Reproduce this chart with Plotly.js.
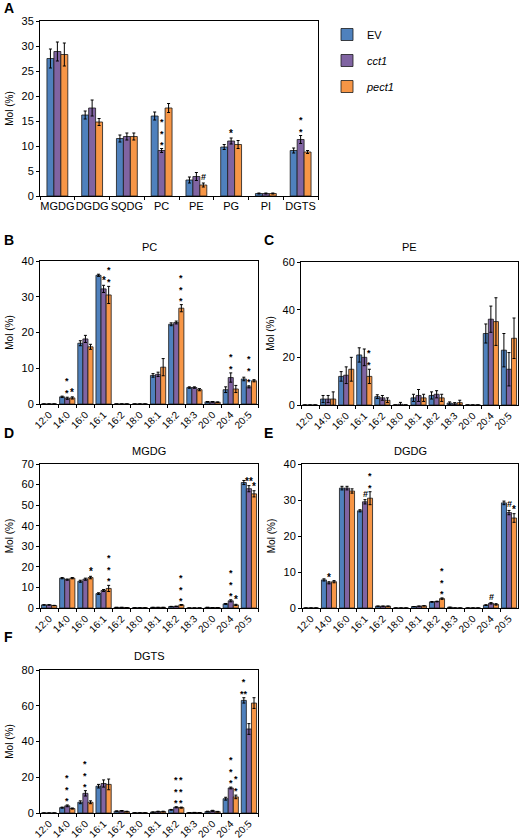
<!DOCTYPE html>
<html>
<head>
<meta charset="utf-8">
<script src="https://cdn.plot.ly/plotly-3.0.1.min.js"></script>
<style>html,body{margin:0;padding:0;background:#fff;}#chart{width:520px;height:840px;}</style>
</head>
<body>
<div id="chart"></div>
<script>
// ---------- DATA ----------
const seriesNames = ['EV', 'cct1', 'pect1'];
const lipidClasses = ['MGDG', 'DGDG', 'SQDG', 'PC', 'PE', 'PG', 'PI', 'DGTS'];
const fattyAcids = ['12:0', '14:0', '16:0', '16:1', '16:2', '18:0', '18:1', '18:2', '18:3', '20:0', '20:4', '20:5'];

// A: lipid classes
const classEV       = [27.5, 16.2, 11.5, 16.0, 3.2, 9.8, 0.5, 9.1];
const classCct1     = [28.9, 17.6, 11.9, 9.1, 3.9, 11.0, 0.5, 11.3];
const classPect1    = [28.3, 14.8, 11.9, 17.6, 2.2, 10.3, 0.5, 8.8];
const classEVErr    = [1.9, 0.8, 0.7, 0.8, 0.6, 0.5, 0.1, 0.5];
const classCct1Err  = [1.9, 1.6, 0.7, 0.4, 0.8, 0.6, 0.1, 0.8];
const classPect1Err = [2.3, 0.7, 0.7, 0.9, 0.4, 0.8, 0.1, 0.3];
const classMarks = [[3, 1, '***', true], [4, 2, '#', false], [5, 1, '*', false], [7, 1, '**', true]];

// B: PC
const pcEV       = [0, 2.0, 17.0, 36.0, 0, 0, 8.0, 22.3, 4.6, 0.6, 4.0, 7.0];
const pcCct1     = [0, 1.6, 18.2, 32.2, 0, 0, 8.3, 22.8, 4.6, 0.6, 7.4, 4.8];
const pcPect1    = [0, 1.7, 16.0, 30.5, 0, 0, 10.3, 26.8, 4.0, 0.5, 4.2, 6.5];
const pcEVErr    = [0, 0.2, 0.7, 0.3, 0, 0, 0.5, 0.4, 0.2, 0.1, 0.8, 0.5];
const pcCct1Err  = [0, 0.3, 1.0, 1.0, 0, 0, 0.6, 0.4, 0.2, 0.1, 1.3, 0.3];
const pcPect1Err = [0, 0.3, 0.7, 2.4, 0, 0, 2.4, 1.0, 0.3, 0.1, 1.0, 0.3];
const pcMarks = [[1, 1, '**', true], [1, 2, '*', false], [3, 1, '*', false], [3, 2, '**', true],
                 [7, 2, '***', true], [10, 1, '**', true], [11, 1, '***', true]];

// C: PE
const peEV       = [0, 2.5, 12.0, 21.0, 3.5, 0, 3.0, 4.0, 0.8, 0, 30.0, 23.0];
const peCct1     = [0, 2.5, 12.5, 20.0, 3.0, 0.3, 4.0, 4.5, 0.5, 0, 36.0, 15.0];
const pePect1    = [0, 2.5, 15.0, 12.0, 2.0, 0, 3.0, 3.0, 1.0, 0, 35.0, 28.0];
const peEVErr    = [0, 1.5, 2.0, 3.0, 0.8, 0, 1.5, 1.5, 0.5, 0, 4.0, 7.0];
const peCct1Err  = [0, 1.5, 3.5, 3.5, 1.0, 0.8, 2.5, 1.5, 0.5, 0, 5.5, 7.0];
const pePect1Err = [0, 3.0, 5.0, 3.0, 1.0, 0, 1.5, 1.5, 1.0, 0, 10.0, 8.5];
const peMarks = [[3, 2, '**', true]];

// D: MGDG
const mgdgEV       = [1.5, 14.5, 13.0, 7.0, 0.3, 0.1, 0.3, 0.7, 0, 0.3, 2.0, 61.0];
const mgdgCct1     = [1.5, 13.8, 14.0, 8.5, 0.3, 0.1, 0.3, 0.8, 0, 0.2, 3.5, 58.0];
const mgdgPect1    = [1.2, 14.5, 14.8, 9.5, 0.2, 0.1, 0.3, 1.5, 0, 0.2, 1.5, 55.5];
const mgdgEVErr    = [0.1, 0.3, 0.5, 0.4, 0, 0, 0, 0.1, 0, 0, 0.2, 1.0];
const mgdgCct1Err  = [0.1, 0.3, 0.5, 0.5, 0, 0, 0, 0.1, 0, 0, 0.5, 1.5];
const mgdgPect1Err = [0.1, 0.3, 0.6, 1.5, 0, 0, 0, 0.2, 0, 0, 0.3, 1.5];
const mgdgMarks = [[2, 2, '*', false], [3, 2, '***', true], [7, 2, '***', true],
                   [10, 1, '***', true], [10, 2, '*', false], [11, 1, '**', false], [11, 2, '*', false]];

// E: DGDG
const dgdgEV       = [0, 7.8, 33.3, 27.0, 0.5, 0, 0.4, 1.7, 0.2, 0, 0.8, 29.2];
const dgdgCct1     = [0, 7.0, 33.3, 29.5, 0.5, 0, 0.5, 1.8, 0, 0, 1.3, 26.5];
const dgdgPect1    = [0, 7.3, 32.5, 30.5, 0.5, 0, 0.6, 2.6, 0, 0, 1.0, 25.0];
const dgdgEVErr    = [0, 0.3, 0.5, 0.3, 0, 0, 0, 0.1, 0, 0, 0.1, 0.5];
const dgdgCct1Err  = [0, 0.3, 0.5, 0.6, 0, 0, 0, 0.1, 0, 0, 0.2, 0.6];
const dgdgPect1Err = [0, 0.3, 0.6, 1.8, 0, 0, 0, 0.2, 0, 0, 0.2, 1.2];
const dgdgMarks = [[1, 1, '*', false], [3, 1, '#', false], [3, 2, '**', true], [7, 2, '***', true],
                   [10, 1, '#', false], [11, 1, '#', false], [11, 2, '*', false]];

// F: DGTS
const dgtsEV       = [0, 3.0, 6.0, 15.0, 1.0, 0.1, 0.5, 1.8, 0.2, 0.8, 8.0, 63.0];
const dgtsCct1     = [0, 4.0, 11.0, 16.5, 1.2, 0.1, 0.8, 3.2, 0.3, 1.2, 14.0, 47.0];
const dgtsPect1    = [0, 2.5, 6.0, 16.0, 0.8, 0.1, 0.8, 3.0, 0.2, 0.7, 9.0, 61.5];
const dgtsEVErr    = [0, 0.3, 0.8, 1.0, 0.2, 0, 0.1, 0.2, 0, 0.2, 0.8, 1.5];
const dgtsCct1Err  = [0, 0.5, 1.5, 2.0, 0.2, 0, 0.2, 0.3, 0, 0.3, 0.5, 3.0];
const dgtsPect1Err = [0, 0.3, 0.8, 3.0, 0.2, 0, 0.2, 0.3, 0, 0.2, 1.0, 3.0];
const dgtsMarks = [[1, 1, '***', true], [2, 1, '***', true], [7, 1, '***', true], [7, 2, '***', true],
                   [10, 1, '***', true], [10, 2, '**', true], [11, 0, '*<br>**', false]];

// ---------- LAYOUT / STYLE ----------
const W = 520, H = 840;
const colors = ['#4F81BD', '#8064A2', '#F79646'];
const FONT = 'Liberation Sans, Arial, Helvetica, sans-serif';

const panels = [
  {label: 'A', title: '', cats: lipidClasses, vals: [classEV, classCct1, classPect1], errs: [classEVErr, classCct1Err, classPect1Err], marks: classMarks,
   box: [40, 318, 21, 196], range: [0, 35], dtick: 5, barW: 0.2, angle: 0, tickSize: 11, labelPos: [2, 8], titleY: 0},
  {label: 'B', title: 'PC', cats: fattyAcids, vals: [pcEV, pcCct1, pcPect1], errs: [pcEVErr, pcCct1Err, pcPect1Err], marks: pcMarks,
   box: [40, 258, 261, 404], range: [0, 40], dtick: 10, barW: 0.28, angle: -45, tickSize: 10, labelPos: [2, 240], titleY: 247},
  {label: 'C', title: 'PE', cats: fattyAcids, vals: [peEV, peCct1, pePect1], errs: [peEVErr, peCct1Err, pePect1Err], marks: peMarks,
   box: [301, 518, 262, 405], range: [0, 60], dtick: 20, barW: 0.28, angle: -45, tickSize: 10, labelPos: [262, 240], titleY: 247},
  {label: 'D', title: 'MGDG', cats: fattyAcids, vals: [mgdgEV, mgdgCct1, mgdgPect1], errs: [mgdgEVErr, mgdgCct1Err, mgdgPect1Err], marks: mgdgMarks,
   box: [40, 258, 464, 608], range: [0, 70], dtick: 10, barW: 0.28, angle: -45, tickSize: 10, labelPos: [2, 433], titleY: 451},
  {label: 'E', title: 'DGDG', cats: fattyAcids, vals: [dgdgEV, dgdgCct1, dgdgPect1], errs: [dgdgEVErr, dgdgCct1Err, dgdgPect1Err], marks: dgdgMarks,
   box: [302, 518, 464, 608], range: [0, 40], dtick: 10, barW: 0.28, angle: -45, tickSize: 10, labelPos: [262, 433], titleY: 451},
  {label: 'F', title: 'DGTS', cats: fattyAcids, vals: [dgtsEV, dgtsCct1, dgtsPect1], errs: [dgtsEVErr, dgtsCct1Err, dgtsPect1Err], marks: dgtsMarks,
   box: [40, 258, 670, 813], range: [0, 80], dtick: 20, barW: 0.28, angle: -45, tickSize: 10, labelPos: [2, 637], titleY: 656}
];

const traces = [];
const layout = {
  width: W, height: H,
  margin: {l: 0, r: 0, t: 0, b: 0},
  paper_bgcolor: '#fff', plot_bgcolor: '#fff',
  font: {family: FONT, color: '#000', size: 11},
  barmode: 'overlay',
  showlegend: true,
  legend: {x: 327 / W, y: 1 - 20 / H, xanchor: 'left', yanchor: 'top', font: {size: 11, family: FONT, color: '#000'},
           tracegroupgap: 7, bgcolor: 'rgba(0,0,0,0)'},
  annotations: []
};

panels.forEach((p, k) => {
  const n = k + 1;
  const xa = 'xaxis' + (n === 1 ? '' : n), ya = 'yaxis' + (n === 1 ? '' : n);
  const xr = 'x' + (n === 1 ? '' : n), yr = 'y' + (n === 1 ? '' : n);
  const [x0, x1, y0, y1] = p.box;
  layout[xa] = {
    domain: [x0 / W, x1 / W], anchor: yr, type: 'category',
    range: [-0.5, p.cats.length - 0.5], fixedrange: true,
    showline: true, linecolor: '#000', linewidth: 1, mirror: true,
    ticks: 'outside', tickson: 'boundaries', ticklen: 3, tickcolor: '#000',
    tickangle: p.angle, tickfont: {size: p.tickSize, family: FONT, color: '#000'}, showgrid: false, automargin: false
  };
  layout[ya] = {
    domain: [1 - y1 / H, 1 - y0 / H], anchor: xr, range: p.range, dtick: p.dtick, fixedrange: true,
    showline: true, linecolor: '#000', linewidth: 1, mirror: true,
    ticks: 'outside', ticklen: 3, tickcolor: '#000', tickfont: {size: 11, family: FONT, color: '#000'},
    showgrid: false, zeroline: false, automargin: false,
    title: {text: 'Mol (%)', font: {size: 10, family: FONT, color: '#000'}, standoff: 6}
  };
  const offsets = [-1.5 * p.barW, -0.5 * p.barW, 0.5 * p.barW];
  for (let s = 0; s < 3; s++) {
    traces.push({
      type: 'bar', x: p.cats, y: p.vals[s], xaxis: xr, yaxis: yr,
      name: s === 0 ? seriesNames[s] : '<i>' + seriesNames[s] + '</i>',
      legendgroup: 'g' + s, showlegend: k === 0,
      width: p.barW, offset: offsets[s],
      marker: {color: colors[s], line: {color: '#1a1a1a', width: 0.8}},
      error_y: {type: 'data', array: p.errs[s], visible: true, color: '#000', thickness: 1, width: 1.5},
      hoverinfo: 'skip'
    });
  }
  // significance marks
  const catPx = (x1 - x0) / p.cats.length;
  p.marks.forEach(([ci, si, txt, vert]) => {
    const top = p.vals[si][ci] + p.errs[si][ci];
    const xs = (offsets[si] + p.barW / 2) * catPx;
    const isHash = txt === '#';
    const multi = vert || txt.indexOf('<br>') >= 0;
    const shown = vert ? txt.split('').join('<br>') : txt;
    layout.annotations.push({xref: xr, yref: yr, x: p.cats[ci], y: top, text: '<b>' + shown + '</b>', showarrow: false,
      xanchor: 'center', yanchor: 'bottom', xshift: xs, yshift: isHash ? -1 : -3,
      font: {size: multi ? 9 : (isHash ? 9 : 10), family: FONT, color: '#000'}});
  });
  // panel label
  layout.annotations.push({xref: 'paper', yref: 'paper', x: p.labelPos[0] / W, y: 1 - p.labelPos[1] / H, text: '<b>' + p.label + '</b>',
    showarrow: false, xanchor: 'left', yanchor: 'middle', font: {size: 14, family: FONT, color: '#000'}});
  // panel title
  if (p.title) {
    layout.annotations.push({xref: 'paper', yref: 'paper', x: ((x0 + x1) / 2) / W, y: 1 - p.titleY / H, text: p.title,
      showarrow: false, xanchor: 'center', yanchor: 'middle', font: {size: 11, family: FONT, color: '#000'}});
  }
});

Plotly.newPlot('chart', traces, layout, {staticPlot: true, displayModeBar: false});
</script>
</body>
</html>
